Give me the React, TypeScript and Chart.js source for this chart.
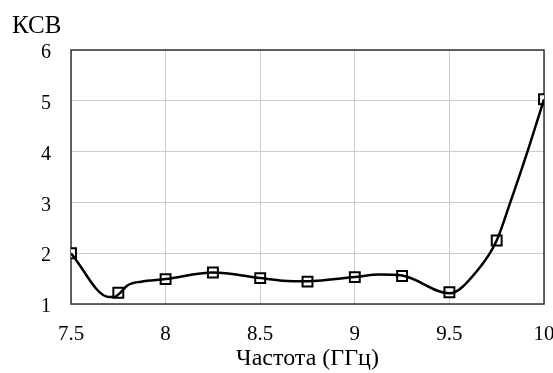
import { useEffect, useRef } from "react";
import { Chart, registerables } from "chart.js";

Chart.register(...registerables);

// Marker points (frequency, GHz / VSWR)
const markerFreq = [7.5, 7.75, 8, 8.25, 8.5, 8.75, 9, 9.25, 9.5, 9.75, 10];
const markerKsv = [2.0, 1.22, 1.49, 1.62, 1.51, 1.44, 1.53, 1.55, 1.23, 2.25, 5.03];

// Smooth curve points
const curveFreq = [7.5, 7.7, 7.73, 7.76, 7.8, 7.87, 8, 8.25, 8.5, 8.62, 8.75, 9, 9.13, 9.25, 9.5, 9.65, 9.75, 9.82, 9.91, 10];
const curveKsv = [2.0, 1.14, 1.14, 1.22, 1.37, 1.44, 1.49, 1.62, 1.51, 1.46, 1.45, 1.53, 1.58, 1.56, 1.21, 1.67, 2.25, 2.98, 3.97, 5.03];

const xTicks = [7.5, 8, 8.5, 9, 9.5, 10];
const yTicks = [1, 2, 3, 4, 5, 6];
const xTickLabels = ["7.5", "8", "8.5", "9", "9.5", "10"];

const yTitle = "КСВ";
const xTitle = "Частота (ГГц)";

const FONT = "'Liberation Serif', 'Times New Roman', serif";

export default function App() {
  const ref = useRef<HTMLCanvasElement | null>(null);

  useEffect(() => {
    if (!ref.current) return;
    const boxPlugin = {
      id: "boxPlugin",
      beforeDatasetsDraw(chart: any) {
        const { ctx, chartArea } = chart;
        ctx.save();
        ctx.strokeStyle = "#333333";
        ctx.lineWidth = 1.5;
        ctx.strokeRect(chartArea.left, chartArea.top, chartArea.right - chartArea.left, chartArea.bottom - chartArea.top);
        ctx.restore();
      },
      afterDraw(chart: any) {
        const { ctx } = chart;
        ctx.save();
        ctx.fillStyle = "#000";
        ctx.font = `25px ${FONT}`;
        ctx.textBaseline = "alphabetic";
        ctx.textAlign = "left";
        ctx.fillText(yTitle, 12, 33);
        ctx.restore();
      },
    };

    const chart = new Chart(ref.current, {
      type: "line",
      data: {
        datasets: [
          {
            data: curveFreq.map((x, i) => ({ x, y: curveKsv[i] })),
            borderColor: "#000",
            borderWidth: 2.5,
            pointRadius: 0,
            cubicInterpolationMode: "monotone",
            fill: false,
          },
          {
            data: markerFreq.map((x, i) => ({ x, y: markerKsv[i] })),
            showLine: false,
            pointStyle: "rect",
            pointRadius: 7,
            pointBorderWidth: 2,
            pointBorderColor: "#000",
            pointBackgroundColor: "#fff",
          },
        ],
      },
      options: {
        responsive: false,
        animation: false,
        layout: { padding: { top: 50, right: 9, left: 0, bottom: 0 } },
        plugins: { legend: { display: false }, tooltip: { enabled: false }, title: { display: false } },
        scales: {
          x: {
            type: "linear",
            min: 7.5,
            max: 10,
            afterBuildTicks: (s: any) => {
              s.ticks = xTicks.map((v) => ({ value: v }));
            },
            afterFit: (s: any) => {
              s.height = 69;
              s.paddingLeft = 0;
              s.paddingRight = 0;
            },
            grid: { color: "#cccccc", lineWidth: 1, drawTicks: false },
            border: { display: false },
            ticks: {
              padding: 18,
              color: "#000",
              font: { family: FONT, size: 21 },
              maxRotation: 0,
              autoSkip: false,
              callback: (v: any) => {
                const i = xTicks.indexOf(Number(v));
                return i >= 0 ? xTickLabels[i] : "";
              },
            },
            title: {
              display: true,
              text: xTitle,
              color: "#000",
              font: { family: FONT, size: 24 },
              padding: 0,
            },
          },
          y: {
            type: "linear",
            min: 1,
            max: 6,
            afterBuildTicks: (s: any) => {
              s.ticks = yTicks.map((v) => ({ value: v }));
            },
            afterFit: (s: any) => {
              s.width = 71;
              s.paddingTop = 0;
              s.paddingBottom = 0;
            },
            grid: { color: "#cccccc", lineWidth: 1, drawTicks: false },
            border: { display: false },
            ticks: {
              padding: 20,
              labelOffset: 3,
              color: "#000",
              font: { family: FONT, size: 20 },
              autoSkip: false,
            },
          },
        },
      },
      plugins: [boxPlugin],
    } as any);
    return () => chart.destroy();
  }, []);

  return (
    <div style={{ position: "absolute", left: 0, top: 0, width: 553, height: 373, background: "#fff" }}>
      <canvas ref={ref} width={553} height={373} style={{ width: 553, height: 373, display: "block" }} />
    </div>
  );
}
